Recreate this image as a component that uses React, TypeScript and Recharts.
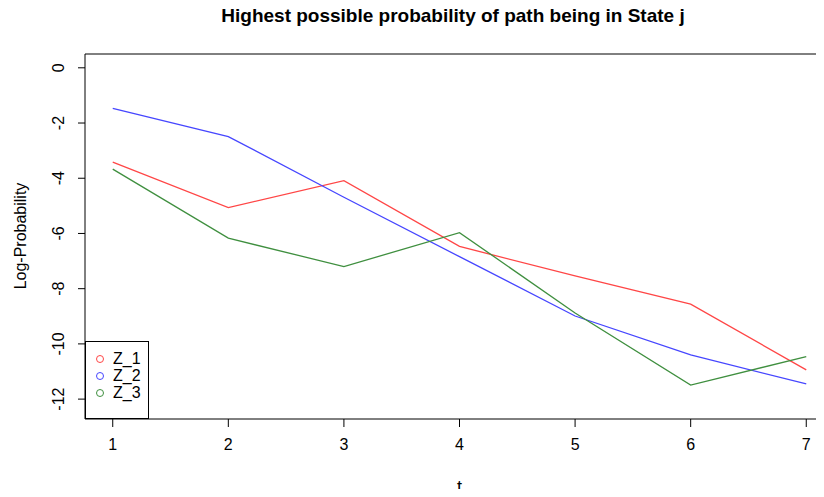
import { LineChart, Line, XAxis, YAxis, ReferenceArea, Legend } from "recharts";

const steps = [1, 2, 3, 4, 5, 6, 7];
const z1 = [-3.42, -5.06, -4.09, -6.47, -7.54, -8.56, -10.94];
const z2 = [-1.47, -2.49, -4.69, -6.84, -8.99, -10.4, -11.45];
const z3 = [-3.67, -6.17, -7.2, -5.97, -8.88, -11.49, -10.46];
const yTicks = [0, -2, -4, -6, -8, -10, -12];

const data = steps.map((t, i) => ({ t, Z_1: z1[i], Z_2: z2[i], Z_3: z3[i] }));

const X_DOMAIN: [number, number] = [0.76, 7.24];
const Y_DOMAIN: [number, number] = [-12.72, 0.5];

const font = "'Liberation Sans', Arial, sans-serif";

const series = [
  { key: "Z_1", color: "#ff4646" },
  { key: "Z_2", color: "#4646ff" },
  { key: "Z_3", color: "#3f8f3f" },
];

const YTick = ({ x, y, payload }: any) => (
  <text
    x={x - 12}
    y={y}
    transform={`rotate(-90, ${x - 12}, ${y})`}
    textAnchor="middle"
    fontSize={16}
    fontFamily={font}
    fill="#000"
  >
    {payload.value}
  </text>
);

const XTitle = ({ viewBox }: any) => (
  <text
    x={viewBox.x + viewBox.width / 2}
    y={493}
    textAnchor="middle"
    fontSize={18}
    fontFamily={font}
    fill="#000"
  >
    t
  </text>
);

const LegendBox = () => (
  <div
    style={{
      width: 64,
      height: 78,
      border: "1px solid #000",
      background: "#fff",
      boxSizing: "border-box",
      paddingTop: 8,
      fontFamily: font,
      fontSize: 16,
      lineHeight: "17px",
    }}
  >
    {series.map((s) => (
      <div key={s.key} style={{ display: "flex", alignItems: "center", height: 17 }}>
        <svg width={22} height={17}>
          <circle cx={14} cy={9} r={3.5} fill="none" stroke={s.color} strokeWidth={1} />
        </svg>
        <span style={{ marginLeft: 5 }}>{s.key}</span>
      </div>
    ))}
  </div>
);

const App = () => {
  return (
    <div style={{ margin: -8, width: 824, height: 497, overflow: "hidden", position: "relative", background: "#fff" }}>
      <div
        style={{
          position: "absolute",
          top: 5,
          left: 0,
          width: 906,
          textAlign: "center",
          fontFamily: font,
          fontWeight: "bold",
          fontSize: 19,
        }}
      >
        Highest possible probability of path being in State j
      </div>
      <div
        style={{
          position: "absolute",
          left: 21,
          top: 236,
          transform: "translate(-50%, -50%) rotate(-90deg)",
          fontFamily: font,
          fontSize: 16,
          whiteSpace: "nowrap",
        }}
      >
        Log-Probability
      </div>
      <LineChart
        width={840}
        height={497}
        data={data}
        margin={{ top: 54, right: 6, left: 0, bottom: 0 }}
      >
        <XAxis
          dataKey="t"
          type="number"
          domain={X_DOMAIN}
          ticks={steps}
          allowDataOverflow
          height={78}
          axisLine={false}
          tickLine={{ stroke: "#000" }}
          tickSize={8}
          tickMargin={12}
          tick={{ fill: "#000", fontSize: 16, fontFamily: font }}
          label={<XTitle />}
        />
        <YAxis
          type="number"
          domain={Y_DOMAIN}
          ticks={yTicks}
          allowDataOverflow
          width={85}
          axisLine={false}
          tickLine={{ stroke: "#000" }}
          tickSize={7}
          tick={<YTick />}
        />
        <ReferenceArea
          x1={X_DOMAIN[0]}
          x2={X_DOMAIN[1]}
          y1={Y_DOMAIN[0]}
          y2={Y_DOMAIN[1]}
          fill="none"
          stroke="#000"
          strokeWidth={1}
          fillOpacity={0}
        />
        {series.map((s) => (
          <Line
            key={s.key}
            type="linear"
            dataKey={s.key}
            stroke={s.color}
            strokeWidth={1.3}
            dot={false}
            activeDot={false}
            isAnimationActive={false}
          />
        ))}
        <Legend
          layout="horizontal"
          verticalAlign="middle"
          align="center"
          wrapperStyle={{ left: 85, top: 341, width: 64 }}
          content={<LegendBox />}
        />
      </LineChart>
    </div>
  );
};

export default App;
